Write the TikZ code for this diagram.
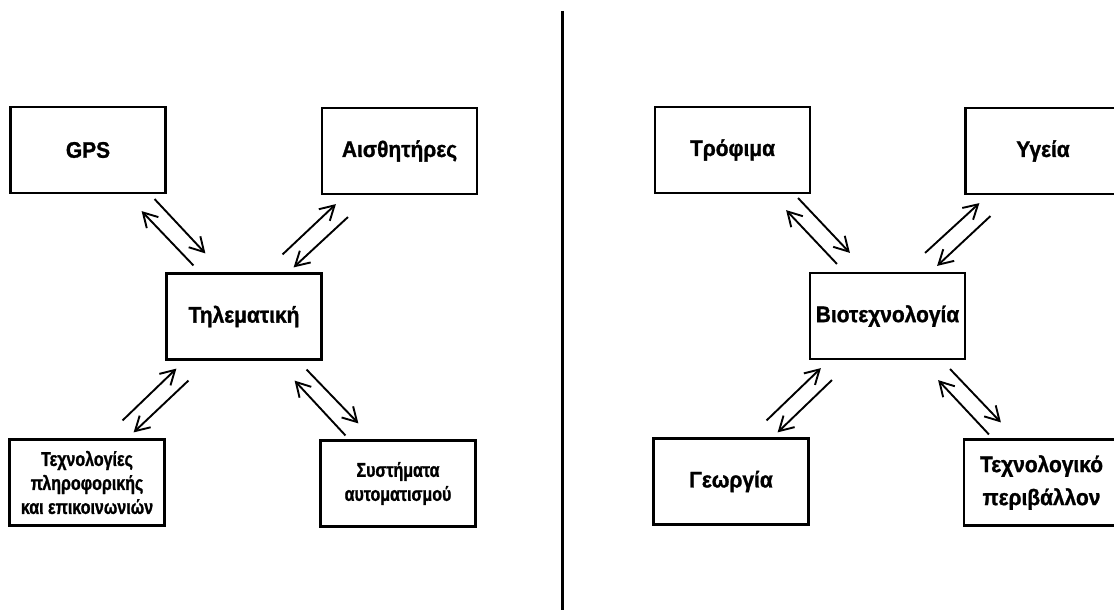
\documentclass[tikz,border=0pt]{standalone}
\usepackage{fontspec}
\setmainfont{Liberation Sans}
\newfontfamily\narrowsans[FakeStretch=0.8,FakeBold=1.2]{Liberation Sans Bold}
\newfontfamily\boxsans[FakeStretch=0.93,FakeBold=1.2]{Liberation Sans Bold}
\usetikzlibrary{arrows.meta}

\begin{document}
\begin{tikzpicture}[x=1pt,y=-1pt,
        box/.style={draw,line width=2.2pt,inner sep=0pt,minimum width=155pt,minimum height=86pt,
            align=center,font=\boxsans\fontsize{22.5}{33}\selectfont},
        small/.style={font=\narrowsans\fontsize{20}{24}\selectfont},
        arr/.style={line width=1.9pt,-{Straight Barb[length=14pt,width=16pt,line width=1.9pt]}}]
    \useasboundingbox (0,0) rectangle (1114,610);
    \clip (0,0) rectangle (1114,610);
    \draw[line width=3pt] (562,11) -- (562,612);
    % telematics
    \node[box] (tel) at (244,316.5) {Τηλεματική};
    \node[box] (gps) at (88,150) {GPS};
    \node[box] (ais) at (399.5,151) {Αισθητήρες};
    \node[box,small] (tpe) at (87,482.5) {Τεχνολογίες\\πληροφορικής\\και επικοινωνιών};
    \node[box,small] (sys) at (398,483.5) {Συστήματα\\αυτοματισμού};
    \draw[arr] ([shift={(-12,5)}]gps.south east) -- ([shift={(40,-19)}]tel.north west);
    \draw[arr] ([shift={(28,-7)}]tel.north west) -- ([shift={(-25,17)}]gps.south east);
    \draw[arr] ([shift={(-40,-18)}]tel.north east) -- ([shift={(15,9)}]ais.south west);
    \draw[arr] ([shift={(27,22)}]ais.south west) -- ([shift={(-29,-5)}]tel.north east);
    \draw[arr] ([shift={(-43,-18)}]tpe.north east) -- ([shift={(11,8)}]tel.south west);
    \draw[arr] ([shift={(23,20)}]tel.south west) -- ([shift={(-32,-6)}]tpe.north east);
    \draw[arr] ([shift={(-16,9)}]tel.south east) -- ([shift={(39,-16)}]sys.north west);
    \draw[arr] ([shift={(26,-4)}]sys.north west) -- ([shift={(-28,20)}]tel.south east);
    % biotechnology
    \node[box] (bio) at (887.5,316) {Βιοτεχνολογία};
    \node[box] (tro) at (732.5,150) {Τρόφιμα};
    \node[box] (yge) at (1043,151) {Υγεία};
    \node[box] (geo) at (731,481.5) {Γεωργία};
    \node[box] (tec) at (1041.5,482.5) {Τεχνολογικό\\περιβάλλον};
    \draw[arr] ([shift={(-13,4)}]tro.south east) -- ([shift={(41,-19)}]bio.north west);
    \draw[arr] ([shift={(28,-8)}]bio.north west) -- ([shift={(-25,16)}]tro.south east);
    \draw[arr] ([shift={(-41,-19)}]bio.north east) -- ([shift={(15,8)}]yge.south west);
    \draw[arr] ([shift={(26,21)}]yge.south west) -- ([shift={(-29,-6)}]bio.north east);
    \draw[arr] ([shift={(-43,-17)}]geo.north east) -- ([shift={(12,8)}]bio.south west);
    \draw[arr] ([shift={(23,20)}]bio.south west) -- ([shift={(-32,-5)}]geo.north east);
    \draw[arr] ([shift={(-16,9)}]bio.south east) -- ([shift={(38,-16)}]tec.north west);
    \draw[arr] ([shift={(26,-4)}]tec.north west) -- ([shift={(-28,20)}]bio.south east);
\end{tikzpicture}
\end{document}
